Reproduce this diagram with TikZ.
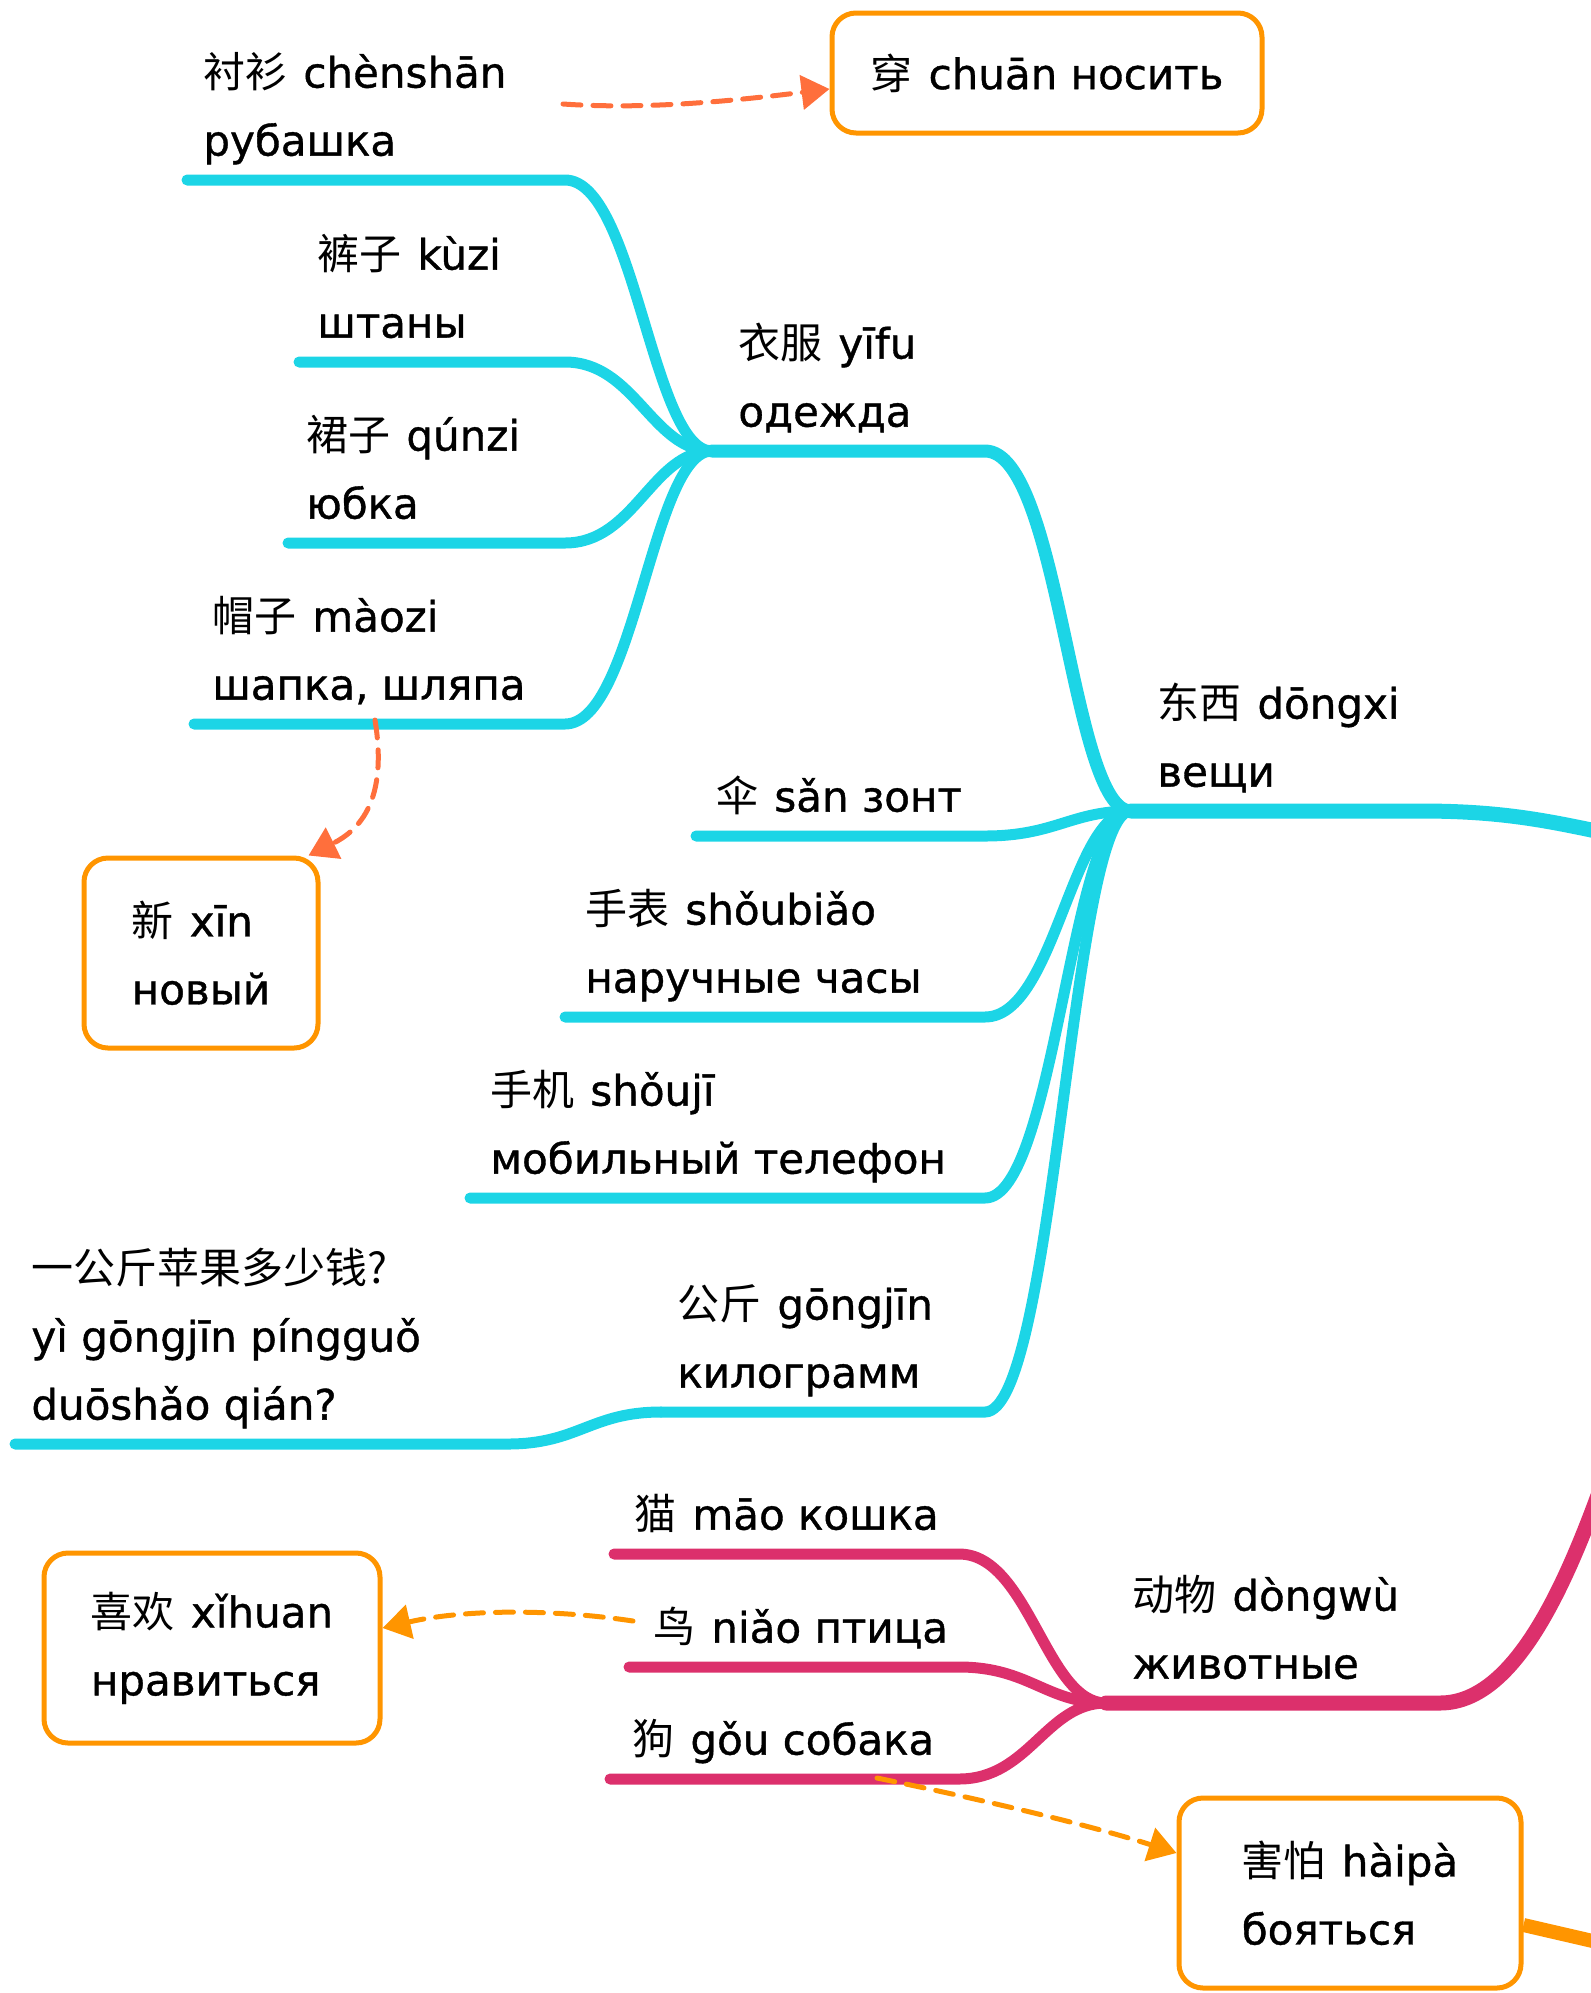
\documentclass[tikz,border=0pt]{standalone}
\usepackage{fontspec}
\setmainfont{DejaVu Sans}[FakeBold=0.9]
\newfontfamily\cjk{Noto Sans CJK SC}
\usetikzlibrary{positioning,arrows.meta}

\definecolor{clothcyan}{HTML}{1CD5E6}
\definecolor{animalpink}{HTML}{DC306C}
\definecolor{boxorange}{HTML}{FF9500}
\definecolor{hintcoral}{HTML}{FF6F3C}

\newcommand\zh[1]{{\cjk #1}\hspace{8pt}}

\tikzset{
  branch/.style={line width=5.5pt, line cap=round},
  lbl/.style={inner sep=0pt, text depth=0pt, align=left},
  notebox/.style={draw=boxorange, line width=2.5pt, rounded corners=12pt,
    align=left, inner sep=0pt},
  hint/.style={line width=2.5pt, line cap=round, dash pattern=on 9pt off 6pt,
    -{Triangle[length=14pt,width=17pt]}}
}

\begin{document}
\begin{tikzpicture}[x=0.5pt,y=-0.5pt,
  every node/.style={font=\fontsize{21}{34}\selectfont}]
\useasboundingbox (0,0) rectangle (1591,1993);
\clip (0,0) rectangle (1591,1993);

% hubs and bends
\coordinate (yifuhub) at (712,451);
\coordinate (dongxihub) at (1131,811);
\coordinate (dongwuhub) at (1106,1703);
\coordinate (clothbend) at (565,0);
\coordinate (thingsbend) at (985,0);
\coordinate (animalbend) at (959,0);
\coordinate (rootA) at (1610,834);
\coordinate (rootB) at (1600,1490);
\coordinate (rootC) at (1610,1945);

% left ends of the branches
\coordinate (chenshanL) at (187,180);
\coordinate (kuziL) at (299,362);
\coordinate (qunziL) at (288,543);
\coordinate (maoziL) at (194,724);
\coordinate (sanL) at (696,836);
\coordinate (shoubiaoL) at (565,1017);
\coordinate (shoujiL) at (470,1198);
\coordinate (gongjinL) at (661,1412);
\coordinate (wenjiaL) at (15,1444);
\coordinate (wenjiaR) at (508,1444);
\coordinate (maoL) at (614,1554);
\coordinate (niaoL) at (629,1667);
\coordinate (gouL) at (610,1779);

% trunks
\draw[branch, clothcyan, line width=7.5pt] (dongxihub) -- (1420,811)
  .. controls (1500,811) and (1545,820) .. (rootA);
\draw[branch, clothcyan, line width=6.5pt] (yifuhub) -- (yifuhub -| thingsbend)
  .. controls +(75,0) and +(-60,0) .. (dongxihub);
\draw[branch, animalpink, line width=7.5pt] (dongwuhub) -- (1440,1703)
  .. controls (1510,1703) and (1560,1600) .. (rootB);

% clothes
\draw[branch, clothcyan] (chenshanL) -- (chenshanL -| clothbend)
  .. controls +(70,0) and +(-60,0) .. (yifuhub);
\draw[branch, clothcyan] (kuziL) -- (kuziL -| clothbend)
  .. controls +(70,0) and +(-60,0) .. (yifuhub);
\draw[branch, clothcyan] (qunziL) -- (qunziL -| clothbend)
  .. controls +(70,0) and +(-60,0) .. (yifuhub);
\draw[branch, clothcyan] (maoziL) -- (maoziL -| clothbend)
  .. controls +(70,0) and +(-60,0) .. (yifuhub);

% things
\draw[branch, clothcyan] (sanL) -- (sanL -| thingsbend)
  .. controls +(70,0) and +(-60,0) .. (dongxihub);
\draw[branch, clothcyan] (shoubiaoL) -- (shoubiaoL -| thingsbend)
  .. controls +(70,0) and +(-60,0) .. (dongxihub);
\draw[branch, clothcyan] (shoujiL) -- (shoujiL -| thingsbend)
  .. controls +(70,0) and +(-60,0) .. (dongxihub);
\draw[branch, clothcyan] (gongjinL) -- (gongjinL -| thingsbend)
  .. controls +(70,0) and +(-60,0) .. (dongxihub);
\draw[branch, clothcyan] (wenjiaL) -- (wenjiaR)
  .. controls +(70,0) and +(-70,0) .. (gongjinL);

% animals
\draw[branch, animalpink] (maoL) -- (maoL -| animalbend)
  .. controls +(70,0) and +(-60,0) .. (dongwuhub);
\draw[branch, animalpink] (niaoL) -- (niaoL -| animalbend)
  .. controls +(70,0) and +(-60,0) .. (dongwuhub);
\draw[branch, animalpink] (gouL) -- (gouL -| animalbend)
  .. controls +(70,0) and +(-60,0) .. (dongwuhub);

% labels
\node[lbl, above right=12pt and 13pt of yifuhub] (yifu) {\zh{衣服}yīfu\\одежда};
\node[lbl, above right=12pt and 13pt of dongxihub] (dongxi) {\zh{东西}dōngxi\\вещи};
\node[lbl, above right=12pt and 13pt of dongwuhub] (dongwu) {\zh{动物}dòngwù\\животные};
\node[lbl, above right=12pt and 8pt of chenshanL] (chenshan) {\zh{衬衫}chènshān\\рубашка};
\node[lbl, above right=12pt and 9pt of kuziL] (kuzi) {\zh{裤子}kùzi\\штаны};
\node[lbl, above right=12pt and 9pt of qunziL] (qunzi) {\zh{裙子}qúnzi\\юбка};
\node[lbl, above right=12pt and 9pt of maoziL] (maozi) {\zh{帽子}màozi\\шапка, шляпа};
\node[lbl, above right=12pt and 10pt of sanL] (san) {\zh{伞}sǎn зонт};
\node[lbl, above right=12pt and 10pt of shoubiaoL] (shoubiao) {\zh{手表}shǒubiǎo\\наручные часы};
\node[lbl, above right=12pt and 10pt of shoujiL] (shouji) {\zh{手机}shǒujī\\мобильный телефон};
\node[lbl, above right=12pt and 8pt of gongjinL] (gongjin) {\zh{公斤}gōngjīn\\килограмм};
\node[lbl, above right=12pt and 8pt of wenjiaL] (wenjia) {{\cjk 一公斤苹果多少钱?}\\yì gōngjīn píngguǒ\\duōshǎo qián?};
\node[lbl, above right=12pt and 10pt of maoL] (mao) {\zh{猫}māo кошка};
\node[lbl, above right=12pt and 12pt of niaoL] (niao) {\zh{鸟}niǎo птица};
\node[lbl, above right=12pt and 11pt of gouL] (gou) {\zh{狗}gǒu собака};

% notes
\node[notebox, minimum width=215pt, minimum height=60pt] (chuan) at (1047,73) {\zh{穿}chuān носить};
\node[notebox, minimum width=117pt, minimum height=95pt] (xin) at (201,953) {\zh{新}xīn\\новый};
\node[notebox, minimum width=168pt, minimum height=95pt] (xihuan) at (212,1648) {\zh{喜欢}xǐhuan\\нравиться};
\node[notebox, minimum width=171pt, minimum height=95pt] (haipa) at (1350,1893) {\zh{害怕}hàipà\\бояться};
\draw[branch, boxorange, line width=7pt, line cap=butt] ([yshift=-16pt]haipa.east) -- (rootC);

% hints
\coordinate (chuanfrom) at (563,104);
\coordinate (xinfrom) at (375,720);
\coordinate (xihuanfrom) at (633,1621);
\coordinate (haipafrom) at (877,1778);
\draw[hint, hintcoral] (chuanfrom) .. controls (650,110) and (740,100) .. ([yshift=-8pt]chuan.west);
\draw[hint, hintcoral] (xinfrom) .. controls (388,800) and (360,830) .. ([xshift=-6pt]xin.north east);
\draw[hint, boxorange] (xihuanfrom) .. controls (560,1610) and (470,1608) .. ([yshift=10pt]xihuan.east);
\draw[hint, boxorange] (haipafrom) .. controls (960,1795) and (1080,1822) .. ([yshift=20pt]haipa.west);
\end{tikzpicture}
\end{document}
